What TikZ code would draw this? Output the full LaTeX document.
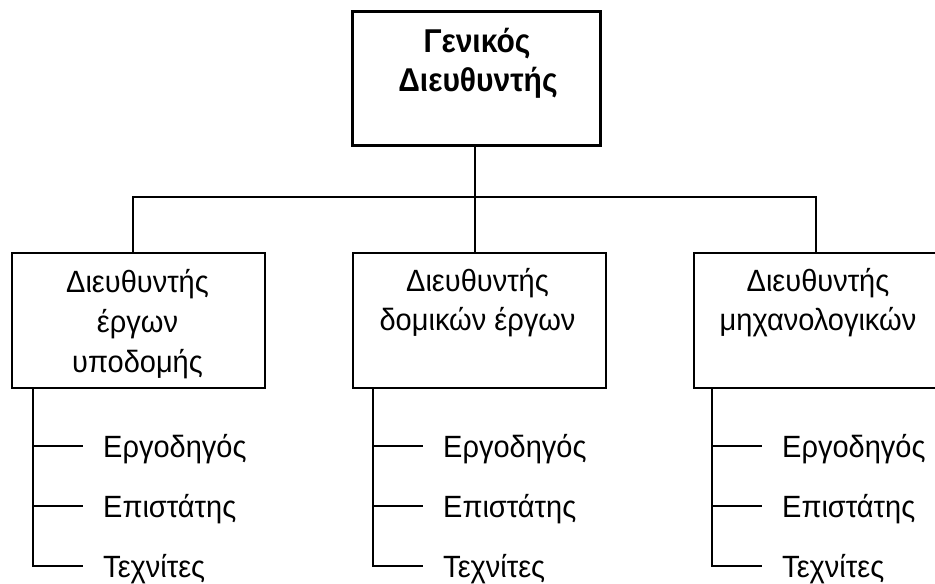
\documentclass[tikz,border=0pt]{standalone}
\usepackage{graphicx}
\usepackage{fontspec}
\setmainfont{Liberation Sans}
\newcommand{\tallN}[1]{\scalebox{1}[1.06]{#1}}
\newcommand{\tallB}[1]{\scalebox{1}[1.1]{#1}}
\begin{document}
\begin{tikzpicture}[x=1pt,y=-1pt,
  line join=miter,
  boxthin/.style={draw=black,line width=1.6pt,fill=white,rectangle,inner sep=0pt,anchor=north west},
  boxthick/.style={draw=black,line width=3pt,fill=white,rectangle,inner sep=0pt,anchor=north west},
  conn/.style={draw=black,line width=1.6pt},
  lbl/.style={font=\fontsize{29}{39}\selectfont,inner sep=0pt,anchor=base,align=center},
  lblb/.style={font=\fontsize{30}{38}\selectfont\bfseries,inner sep=0pt,anchor=base,align=center},
  item/.style={font=\fontsize{29}{35}\selectfont,inner sep=0pt,anchor=base west}]
\useasboundingbox (0,0) rectangle (935,584);
\clip (0,0) rectangle (935,584);
% top box
\node[boxthick,minimum width=248pt,minimum height=134pt] (gd) at (351,10) {};
\node[lblb] (gdt) at (477,52) {\tallB{Γενικός}};
\node[lblb] (gdt2) at (478,91) {\tallB{Διευθυντής}};
% second-level boxes
\node[boxthin,minimum width=253pt,minimum height=135pt] (b1) at (11,252) {};
\node[boxthin,minimum width=253pt,minimum height=135pt] (b2) at (352,252) {};
\node[boxthin,minimum width=252pt,minimum height=135pt] (b3) at (693,252) {};
\node[lbl] (b1a) at (137.5,292) {\tallN{Διευθυντής}};
\node[lbl] (b1b) at (137.5,332) {\tallN{έργων}};
\node[lbl] (b1c) at (137.5,372) {\tallN{υποδομής}};
\node[lbl] (b2a) at (477.5,291) {\tallN{Διευθυντής}};
\node[lbl] (b2b) at (477.5,330) {\tallN{δομικών έργων}};
\node[lbl] (b3a) at (818,291) {\tallN{Διευθυντής}};
\node[lbl] (b3b) at (818,330) {\tallN{μηχανολογικών}};
% bus
\coordinate (bus) at (475,197);
\coordinate (busL) at (133,197);
\coordinate (busR) at (816,197);
\draw[conn] (gd.south -| bus) -- (bus);
\draw[conn] (b1.north -| busL) -- (busL) -- (busR) -- (b3.north -| busR);
\draw[conn] (bus) -- (b2.north -| bus);
% sub items
\foreach \b/\x in {1/33,2/373,3/712}{
  \node[item] (e\b) at (\x+70,457) {\tallN{Εργοδηγός}};
  \node[item] (p\b) at (\x+70,517) {\tallN{Επιστάτης}};
  \node[item] (t\b) at (\x+70,577) {\tallN{Τεχνίτες}};
  \coordinate (v\b) at (\x,387);
  \coordinate (ke\b) at (\x+50,446);
  \coordinate (kp\b) at (\x+50,506);
  \coordinate (kt\b) at (\x+50,566);
  \draw[conn] (b\b.south -| v\b) |- (kt\b);
  \draw[conn] (ke\b -| v\b) -- (ke\b);
  \draw[conn] (kp\b -| v\b) -- (kp\b);
}
\end{tikzpicture}
\end{document}
